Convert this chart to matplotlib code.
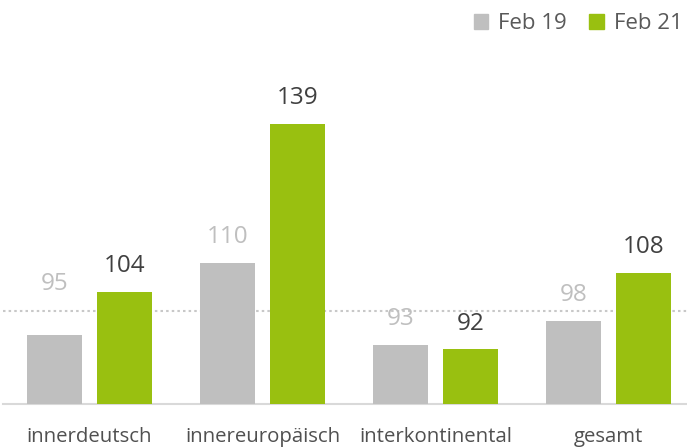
import matplotlib
matplotlib.use("Agg")
import matplotlib.pyplot as plt
import numpy as np
from matplotlib.patches import Patch

categories = ["innerdeutsch", "innereuropäisch", "interkontinental", "gesamt"]
feb19 = [95, 110, 93, 98]
feb21 = [104, 139, 92, 108]
series_names = ["Feb 19", "Feb 21"]
reference_value = 100

GREY = "#BFBFBF"
GREEN = "#99C010"
DARK = "#404040"

plt.rcParams['font.family'] = ['Open Sans', 'DejaVu Sans']

W, H = 687, 447
fig = plt.figure(figsize=(W / 100, H / 100), dpi=100)
left_px, right_px = 3, 695.5
bottom_px, top_px = 404, 40
ax = fig.add_axes([left_px / W, (H - bottom_px) / H,
                   (right_px - left_px) / W, (bottom_px - top_px) / H])

x = np.arange(len(categories))
bw = 0.318
off = 0.202
b1 = ax.bar(x - off, feb19, bw, color=GREY, zorder=3)
b2 = ax.bar(x + off, feb21, bw, color=GREEN, zorder=3)

ppu = 4.8
ax.set_ylim(100 - (bottom_px - 311) / ppu, 100 + (311 - top_px) / ppu)
ax.set_xlim(-0.5, 3.5)

ax.axhline(reference_value, color="#C8C8C8", lw=1.5, ls=(0, (1.2, 1.5)), zorder=1)

extra = {0: 18}
for i, (r, v) in enumerate(zip(b1, feb19)):
    ax.annotate(str(v), (r.get_x() + r.get_width() / 2, v), xytext=(0, 10 + extra.get(i, 0)),
                textcoords="offset points", ha="center", va="bottom",
                fontsize=17.5, color=GREY)
for r, v in zip(b2, feb21):
    ax.annotate(str(v), (r.get_x() + r.get_width() / 2, v), xytext=(0, 10),
                textcoords="offset points", ha="center", va="bottom",
                fontsize=17.5, color=DARK)

for s in ["top", "right", "left"]:
    ax.spines[s].set_visible(False)
ax.spines["bottom"].set_color("#D9D9D9")
ax.spines["bottom"].set_linewidth(1.5)
ax.set_yticks([])
ax.set_xticks(x)
ax.set_xticklabels(categories, fontsize=14.7, color="#505050")
ax.tick_params(axis="x", length=0, pad=16.5)

handles = [Patch(color=GREY), Patch(color=GREEN)]
fig.legend(handles, series_names, loc="upper right", bbox_to_anchor=(1.013, 1.0),
           ncol=2, frameon=False, fontsize=16, labelcolor="#595959",
           handlelength=0.65, handleheight=0.65, handletextpad=0.45, columnspacing=1.0,
           borderaxespad=0.2)

fig.savefig("out.png", dpi=100)
